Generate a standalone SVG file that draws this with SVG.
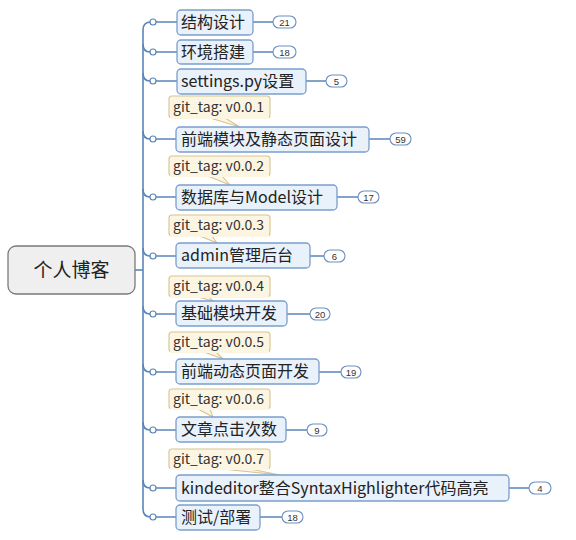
<svg xmlns="http://www.w3.org/2000/svg" width="576" height="540" viewBox="0 0 576 540">
<style>
.bg{fill:#ffffff}
.conn{fill:none;stroke:#5a85b9;stroke-width:1.6}
.dot{fill:#ffffff;stroke:#5a85b9;stroke-width:1.2}
.node rect{fill:#e9f1fa;stroke:#7a9ecb;stroke-width:1.3}
.node text{font-family:"Noto Sans CJK SC","Noto Sans",sans-serif;font-size:16px;fill:#222222}
.root rect{fill:#efefef;stroke:#7a7a7a;stroke-width:1.3}
.root text{font-family:"Noto Sans CJK SC","Noto Sans",sans-serif;font-size:19px;fill:#222222}
.badge rect{fill:#ffffff;stroke:#6a8fbf;stroke-width:1.1}
.badge text{font-family:"Liberation Sans",sans-serif;font-size:9.5px;fill:#333333;text-anchor:middle}
.tag rect,.tag path{fill:#fcf5e2;stroke:#d6c38f;stroke-width:1.1}
.tag text{font-family:"Noto Sans CJK SC","Noto Sans",sans-serif;font-size:14px;fill:#333333}
</style>
<rect class="bg" x="0" y="0" width="576" height="540"/>
<g id="connectors">
  <path class="conn" d="M135,270 H143"/>
  <path class="conn" d="M143,509 V30 Q143,22 151,22"/>
  <path class="conn" d="M143,509 Q143,517 151,517"/>
  <path class="conn" d="M143,44 Q143,52 150,52"/>
  <path class="conn" d="M143,73 Q143,81 150,81"/>
  <path class="conn" d="M143,131 Q143,139 150,139"/>
  <path class="conn" d="M143,189 Q143,197 150,197"/>
  <path class="conn" d="M143,248 Q143,256 150,256"/>
  <path class="conn" d="M143,306 Q143,314 150,314"/>
  <path class="conn" d="M143,364 Q143,372 150,372"/>
  <path class="conn" d="M143,422 Q143,430 150,430"/>
  <path class="conn" d="M143,480 Q143,488 150,488"/>
  <path class="conn" d="M156,22 H177 M156,52 H177 M156,81 H177 M156,139 H176 M156,197 H176 M156,256 H176 M156,314 H176 M156,372 H176 M156,430 H176 M156,488 H176 M156,517 H176"/>
  <circle class="dot" cx="153" cy="22" r="3"/>
  <circle class="dot" cx="153" cy="52" r="3"/>
  <circle class="dot" cx="153" cy="81" r="3"/>
  <circle class="dot" cx="153" cy="139" r="3"/>
  <circle class="dot" cx="153" cy="197" r="3"/>
  <circle class="dot" cx="153" cy="256" r="3"/>
  <circle class="dot" cx="153" cy="314" r="3"/>
  <circle class="dot" cx="153" cy="372" r="3"/>
  <circle class="dot" cx="153" cy="430" r="3"/>
  <circle class="dot" cx="153" cy="488" r="3"/>
  <circle class="dot" cx="153" cy="517" r="3"/>
  <path class="conn" d="M253,22 H273 M253,52 H273 M306,81 H326 M369,139 H390 M337,197 H358 M310,256 H324 M287,314 H310 M319,372 H341 M286,430 H307 M509,488 H529 M260,517 H282" stroke-width="1.3"/>
</g>
<g id="root" class="root">
  <rect x="8" y="246" width="127" height="48" rx="8"/>
  <text x="71.5" y="277" text-anchor="middle">个人博客</text>
</g>
<g id="n1" class="node"><rect x="177" y="10" width="76" height="25" rx="4"/><text x="181" y="28">结构设计</text></g>
<g id="b1" class="badge"><rect x="273" y="16" width="23" height="12" rx="6"/><text x="284.5" y="25.5">21</text></g>
<g id="n2" class="node"><rect x="177" y="40" width="76" height="24" rx="4"/><text x="181" y="58">环境搭建</text></g>
<g id="b2" class="badge"><rect x="273" y="46" width="23" height="12" rx="6"/><text x="284.5" y="55.5">18</text></g>
<g id="n3" class="node"><rect x="177" y="69" width="129" height="25" rx="4"/><text x="181" y="87">settings.py设置</text></g>
<g id="b3" class="badge"><rect x="326" y="75" width="21" height="12" rx="6"/><text x="336.5" y="84.5">5</text></g>

<g id="t1" class="tag"><path d="M210,118 L240,127 L225,118 Z"/><rect x="169" y="96" width="101" height="22" rx="3"/><rect x="170" y="117" width="99" height="2" style="stroke:none"/><text x="173" y="112">git_tag: v0.0.1</text></g>
<g id="n4" class="node"><rect x="176" y="127" width="193" height="25" rx="4"/><text x="181" y="145">前端模块及静态页面设计</text></g>
<g id="b4" class="badge"><rect x="390" y="133" width="21" height="12" rx="6"/><text x="400.5" y="142.5">59</text></g>

<g id="t2" class="tag"><path d="M208,176 L230,185 L222,176 Z"/><rect x="169" y="156" width="101" height="20" rx="3"/><rect x="170" y="175" width="99" height="2" style="stroke:none"/><text x="173" y="171">git_tag: v0.0.2</text></g>
<g id="n5" class="node"><rect x="176" y="185" width="161" height="25" rx="4"/><text x="181" y="203">数据库与Model设计</text></g>
<g id="b5" class="badge"><rect x="358" y="191" width="21" height="12" rx="6"/><text x="368.5" y="200.5">17</text></g>

<g id="t3" class="tag"><path d="M200,236 L217,243 L212,236 Z"/><rect x="169" y="215" width="101" height="21" rx="3"/><rect x="170" y="235" width="99" height="2" style="stroke:none"/><text x="173" y="230">git_tag: v0.0.3</text></g>
<g id="n6" class="node"><rect x="176" y="243" width="134" height="25" rx="4"/><text x="181" y="261">admin管理后台</text></g>
<g id="b6" class="badge"><rect x="324" y="250" width="21" height="12" rx="6"/><text x="334.5" y="259.5">6</text></g>

<g id="t4" class="tag"><path d="M198,297 L213,301 L209,297 Z"/><rect x="169" y="276" width="101" height="21" rx="3"/><rect x="170" y="296" width="99" height="2" style="stroke:none"/><text x="173" y="291">git_tag: v0.0.4</text></g>
<g id="n7" class="node"><rect x="176" y="301" width="111" height="25" rx="4"/><text x="181" y="319">基础模块开发</text></g>
<g id="b7" class="badge"><rect x="310" y="308" width="20" height="12" rx="6"/><text x="320" y="317.5">20</text></g>

<g id="t5" class="tag"><path d="M204,352 L223,359 L216,352 Z"/><rect x="169" y="332" width="101" height="20" rx="3"/><rect x="170" y="351" width="99" height="2" style="stroke:none"/><text x="173" y="347">git_tag: v0.0.5</text></g>
<g id="n8" class="node"><rect x="176" y="359" width="143" height="25" rx="4"/><text x="181" y="377">前端动态页面开发</text></g>
<g id="b8" class="badge"><rect x="341" y="366" width="20" height="12" rx="6"/><text x="351" y="375.5">19</text></g>

<g id="t6" class="tag"><path d="M198,409 L213,417 L210,409 Z"/><rect x="169" y="389" width="101" height="20" rx="3"/><rect x="170" y="408" width="99" height="2" style="stroke:none"/><text x="173" y="404">git_tag: v0.0.6</text></g>
<g id="n9" class="node"><rect x="176" y="417" width="110" height="25" rx="4"/><text x="181" y="435">文章点击次数</text></g>
<g id="b9" class="badge"><rect x="307" y="424" width="20" height="12" rx="6"/><text x="317" y="433.5">9</text></g>

<g id="t7" class="tag"><path d="M222,469 L280,475 L250,469 Z"/><rect x="169" y="449" width="101" height="20" rx="3"/><rect x="170" y="468" width="99" height="2" style="stroke:none"/><text x="173" y="464">git_tag: v0.0.7</text></g>
<g id="n10" class="node"><rect x="176" y="475" width="333" height="26" rx="4"/><text x="181" y="494">kindeditor整合SyntaxHighlighter代码高亮</text></g>
<g id="b10" class="badge"><rect x="529" y="482" width="22" height="12" rx="6"/><text x="540" y="491.5">4</text></g>

<g id="n11" class="node"><rect x="176" y="505" width="84" height="25" rx="4"/><text x="181" y="523">测试/部署</text></g>
<g id="b11" class="badge"><rect x="282" y="511" width="21" height="12" rx="6"/><text x="292.5" y="520.5">18</text></g>
</svg>
